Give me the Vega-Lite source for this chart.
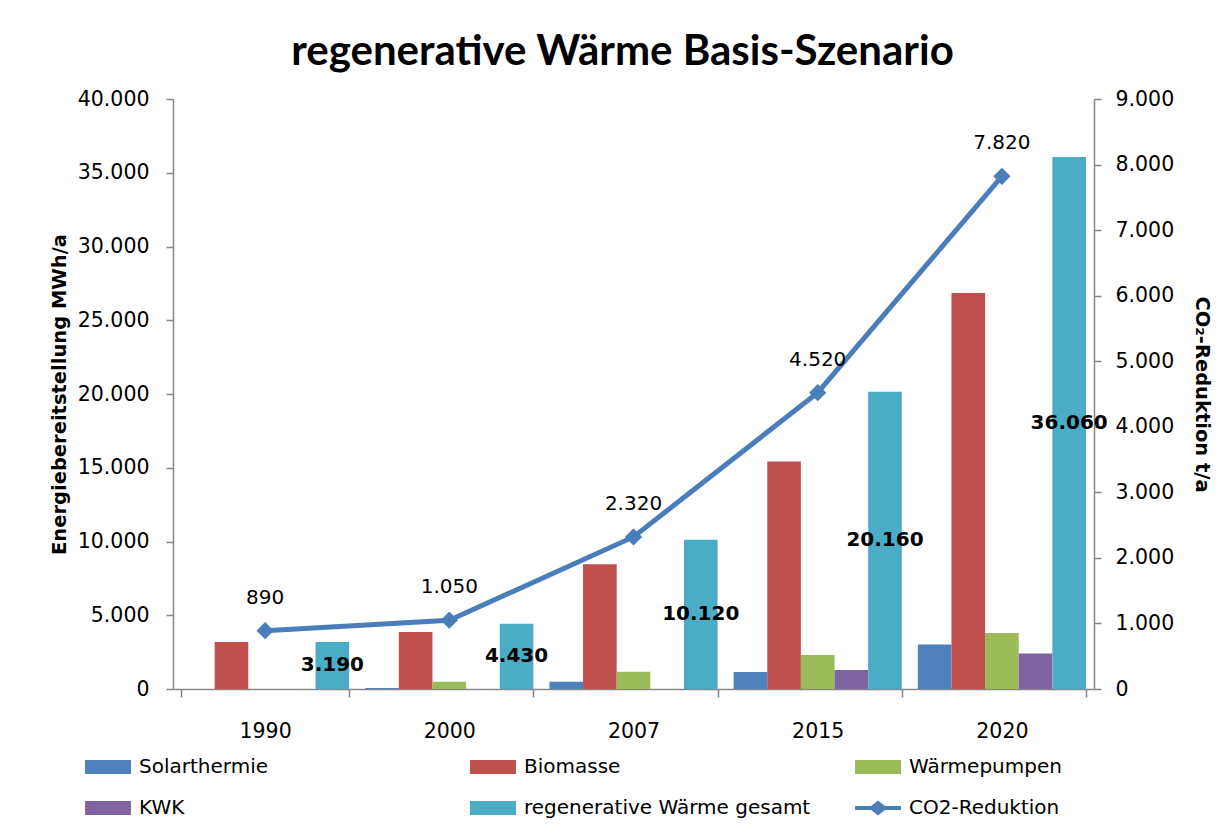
{
  "$schema": "https://vega.github.io/schema/vega-lite/v6.json",
  "width": 921,
  "height": 590,
  "autosize": {"type": "none"},
  "padding": {"left": 173, "top": 99, "right": 136, "bottom": 146},
  "background": "white",
  "title": {
    "text": "regenerative Wärme Basis-Szenario",
    "font": "Lato",
    "fontSize": 42,
    "fontWeight": "bold",
    "color": "black",
    "anchor": "middle",
    "dx": -11,
    "offset": 15
  },
  "config": {
    "locale": {"number": {"decimal": ",", "thousands": ".", "grouping": [3], "currency": ["", " €"]}},
    "view": {"stroke": null},
    "axis": {
      "labelFont": "DejaVu Sans",
      "labelFontSize": 20.5,
      "labelColor": "black",
      "domainColor": "#868686",
      "tickColor": "#868686",
      "domainWidth": 1.5,
      "tickWidth": 1.5,
      "grid": false,
      "titleFont": "DejaVu Sans",
      "titleFontSize": 19.5,
      "titleFontWeight": "bold",
      "titleColor": "black"
    }
  },
  "data": {
    "values": [
      {"year": "1990", "series": "Solarthermie", "value": 0},
      {"year": "1990", "series": "Biomasse", "value": 3190},
      {"year": "1990", "series": "Wärmepumpen", "value": 0},
      {"year": "1990", "series": "KWK", "value": 0},
      {"year": "1990", "series": "regenerative Wärme gesamt", "value": 3190},
      {"year": "1990", "series": "CO2-Reduktion", "value": 890},
      {"year": "2000", "series": "Solarthermie", "value": 60},
      {"year": "2000", "series": "Biomasse", "value": 3870},
      {"year": "2000", "series": "Wärmepumpen", "value": 500},
      {"year": "2000", "series": "KWK", "value": 0},
      {"year": "2000", "series": "regenerative Wärme gesamt", "value": 4430},
      {"year": "2000", "series": "CO2-Reduktion", "value": 1050},
      {"year": "2007", "series": "Solarthermie", "value": 490},
      {"year": "2007", "series": "Biomasse", "value": 8460},
      {"year": "2007", "series": "Wärmepumpen", "value": 1170},
      {"year": "2007", "series": "KWK", "value": 0},
      {"year": "2007", "series": "regenerative Wärme gesamt", "value": 10120},
      {"year": "2007", "series": "CO2-Reduktion", "value": 2320},
      {"year": "2015", "series": "Solarthermie", "value": 1150},
      {"year": "2015", "series": "Biomasse", "value": 15420},
      {"year": "2015", "series": "Wärmepumpen", "value": 2300},
      {"year": "2015", "series": "KWK", "value": 1290},
      {"year": "2015", "series": "regenerative Wärme gesamt", "value": 20160},
      {"year": "2015", "series": "CO2-Reduktion", "value": 4520},
      {"year": "2020", "series": "Solarthermie", "value": 3020},
      {"year": "2020", "series": "Biomasse", "value": 26850},
      {"year": "2020", "series": "Wärmepumpen", "value": 3790},
      {"year": "2020", "series": "KWK", "value": 2400},
      {"year": "2020", "series": "regenerative Wärme gesamt", "value": 36060},
      {"year": "2020", "series": "CO2-Reduktion", "value": 7820}
    ]
  },
  "encoding": {
    "x": {
      "field": "year",
      "type": "nominal",
      "sort": null,
      "scale": {"paddingInner": 0.087, "paddingOuter": 0.0435},
      "axis": {
        "title": null,
        "labelAngle": 0,
        "tickBand": "extent",
        "tickSize": 8,
        "labelPadding": 24
      }
    }
  },
  "layer": [
    {
      "transform": [{"filter": "datum.series !== 'CO2-Reduktion'"}],
      "mark": {"type": "bar"},
      "encoding": {
        "xOffset": {
          "field": "series",
          "scale": {"domain": ["Solarthermie", "Biomasse", "Wärmepumpen", "KWK", "regenerative Wärme gesamt"], "paddingInner": 0, "paddingOuter": 0}
        },
        "y": {
          "field": "value",
          "type": "quantitative",
          "scale": {"domain": [0, 40000], "nice": false},
          "axis": {
            "orient": "left",
            "title": "Energiebereitstellung MWh/a",
            "values": [0, 5000, 10000, 15000, 20000, 25000, 30000, 35000, 40000],
            "format": ",d",
            "tickSize": 7,
            "labelPadding": 17,
            "titlePadding": 8
          }
        },
        "color": {
          "field": "series",
          "type": "nominal",
          "scale": {
            "domain": ["Solarthermie", "KWK", "Biomasse", "regenerative Wärme gesamt", "Wärmepumpen", "CO2-Reduktion"],
            "range": ["#4F81BD", "#8064A2", "#C0504D", "#4BACC6", "#9BBB59", "#4A7EBB"]
          },
          "legend": {
            "title": null,
            "orient": "none",
            "legendX": -88,
            "legendY": 645,
            "columns": 3,
            "gridAlign": "all",
            "columnPadding": 44,
            "rowPadding": 8,
            "padding": 0,
            "symbolSize": 2116,
            "symbolType": "M-1,-0.3H1V0.3H-1Z",
            "symbolStrokeWidth": 0,
            "labelFont": "DejaVu Sans",
            "labelFontSize": 20,
            "labelColor": "black",
            "labelOffset": 8,
            "labelLimit": 400,
            "encode": {
              "symbols": {
                "update": {
                  "fill": {"scale": "color", "field": "value"},
                  "strokeWidth": {"value": 0},
                  "shape": {"signal": "datum.value === 'CO2-Reduktion' ? 'M-1,-0.087H-0.3L0,-0.33L0.3,-0.087H1V0.087H0.3L0,0.33L-0.3,0.087H-1Z' : 'M-1,-0.3H1V0.3H-1Z'"}
                }
              }
            }
          }
        }
      }
    },
    {
      "transform": [{"filter": "datum.series === 'CO2-Reduktion'"}],
      "mark": {
        "type": "line",
        "strokeWidth": 5,
        "point": {"shape": "diamond", "size": 300, "filled": true}
      },
      "encoding": {
        "y": {
          "field": "value",
          "type": "quantitative",
          "scale": {"domain": [0, 9000], "nice": false},
          "axis": {
            "orient": "right",
            "title": "CO₂-Reduktion t/a",
            "values": [0, 1000, 2000, 3000, 4000, 5000, 6000, 7000, 8000, 9000],
            "format": ",d",
            "tickSize": 7,
            "labelPadding": 14,
            "titlePadding": 18
          }
        },
        "color": {"field": "series", "type": "nominal"}
      }
    },
    {
      "transform": [{"filter": "datum.series === 'CO2-Reduktion'"}],
      "mark": {"type": "text", "font": "DejaVu Sans", "fontSize": 20, "color": "black", "dy": -33, "baseline": "middle"},
      "encoding": {
        "y": {"field": "value", "type": "quantitative", "scale": {"domain": [0, 9000], "nice": false}, "axis": null},
        "text": {"field": "value", "type": "quantitative", "format": ",d"}
      }
    },
    {
      "transform": [{"filter": "datum.series === 'regenerative Wärme gesamt'"}],
      "mark": {"type": "text", "font": "DejaVu Sans", "fontSize": 20, "fontWeight": "bold", "color": "black", "baseline": "middle"},
      "encoding": {
        "xOffset": {
          "field": "series",
          "scale": {"domain": ["Solarthermie", "Biomasse", "Wärmepumpen", "KWK", "regenerative Wärme gesamt"], "paddingInner": 0, "paddingOuter": 0}
        },
        "y": {"field": "value", "type": "quantitative", "scale": {"domain": [0, 80000], "nice": false}, "axis": null},
        "text": {"field": "value", "type": "quantitative", "format": ",d"}
      }
    }
  ],
  "resolve": {"scale": {"y": "independent"}}
}
